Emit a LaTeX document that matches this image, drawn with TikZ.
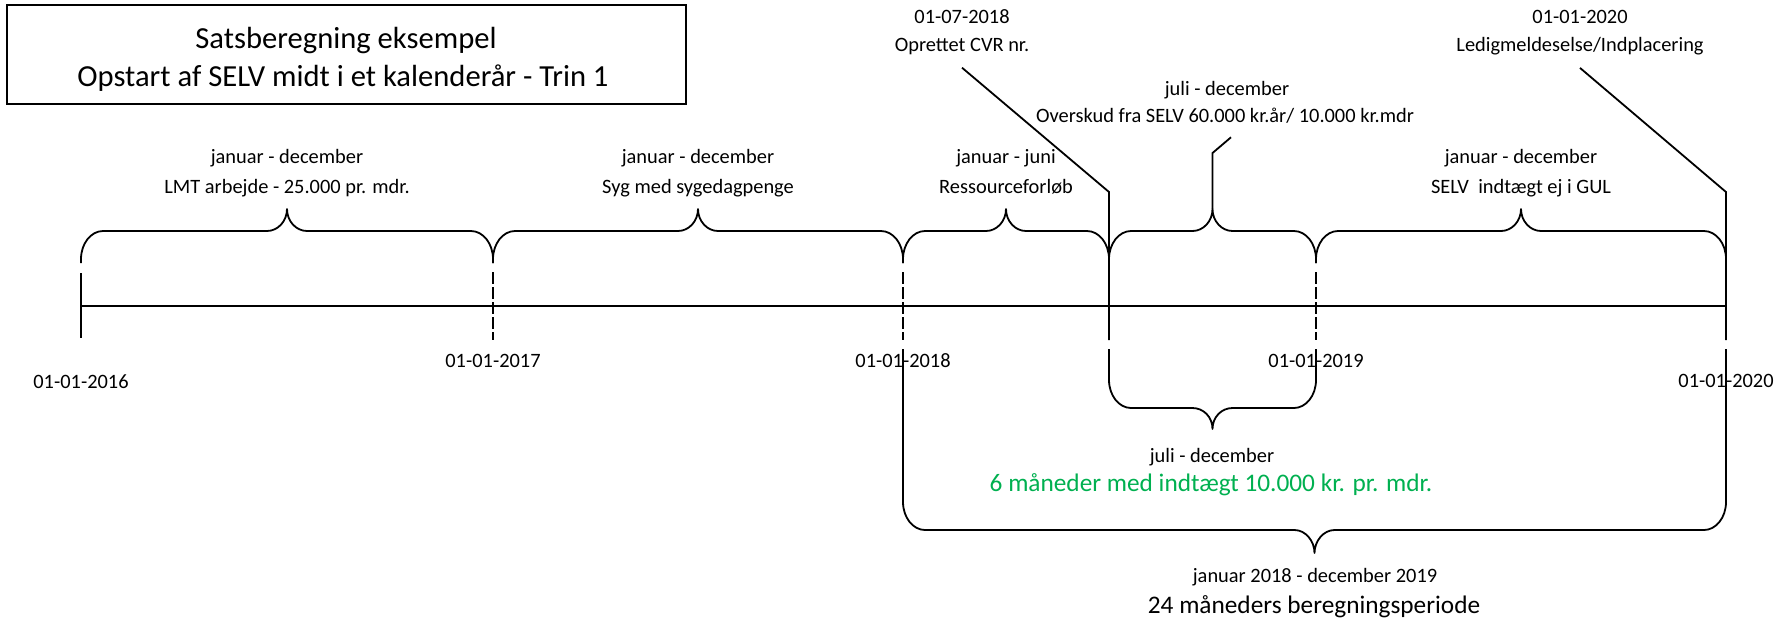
\documentclass[tikz,border=0pt]{standalone}
\usepackage{fontspec}
\setmainfont{Carlito}
\definecolor{incomegreen}{RGB}{0,176,80}
\tikzset{timeline/.style={line width=0.9pt},
    dashtick/.style={line width=0.9pt,dash pattern=on 6pt off 1.5pt},
    bracy/.style={line width=0.9pt,line join=round},
    smalltext/.style={anchor=base,inner sep=0pt,font=\fontsize{10.2}{12}\selectfont},
    midtext/.style={anchor=base,inner sep=0pt,font=\fontsize{12.65}{15}\selectfont},
    titletext/.style={anchor=base,inner sep=0pt,font=\fontsize{15.3}{18}\selectfont}
}
\newcommand{\timebrace}[6]
{
% args: (name of tip, x of left end, x of right end, y of ends, y of bar, y of tip)
    \pgfmathsetmacro\bmid{(#2+#3)/2}
    \pgfmathsetmacro\bdir{sign(#6-#5)}
    \pgfmathsetmacro\bknee{#5-28*(\bdir)}
    \pgfmathsetmacro\bkneectl{#5-12.5*(\bdir)}
    \pgfmathsetmacro\btipctl{#6-12*(\bdir)}
    \coordinate (#1) at (\bmid,#6);
    \draw [bracy] (#2,#4) -- (#2,\bknee)
        .. controls (#2,\bkneectl) and (#2+10,#5) .. (#2+22,#5)
        -- (\bmid-20,#5)
        .. controls (\bmid-9,#5) and (\bmid,\btipctl) .. (#1)
        .. controls (\bmid,\btipctl) and (\bmid+9,#5) .. (\bmid+20,#5)
        -- (#3-22,#5)
        .. controls (#3-10,#5) and (#3,\bkneectl) .. (#3,\bknee)
        -- (#3,#4);
}
\begin{document}
\begin{tikzpicture}[x=0.5pt,y=-0.5pt]
\useasboundingbox (0,0) rectangle (1787,618);

% title

\node (titlebox) [draw,line width=1.1pt,minimum width=339.5pt,minimum height=49.5pt,inner sep=0pt] at (346.5,54.5) {};
\node (title1) [titletext] at (346,48) {Satsberegning eksempel};
\node (title2) [titletext] at (343,86) {Opstart af SELV midt i et kalenderår - Trin 1};

% timeline with year marks

\coordinate (d16) at (81,306);
\coordinate (d17) at (493,306);
\coordinate (d18) at (903,306);
\coordinate (d1807) at (1109,306);
\coordinate (d19) at (1316,306);
\coordinate (d20) at (1726,306);

\draw [timeline] (d16) -- (d20);
\draw [timeline] (d16) ++(0,-33) -- ++(0,65);
\foreach \d in {d17,d18,d19}
    \draw [dashtick] (\d) ++(0,-34) -- ++(0,68);

\foreach \x/\y/\yr in {81/388/2016,493/367/2017,903/367/2018,1316/367/2019,1726/387/2020}
    \node (date\yr) [smalltext] at (\x,\y) {01-01-\yr};

% periods above the line

\foreach \a/\b [count=\i] in {81/493,493/903,903/1109,1109/1316,1316/1726}
{
    \timebrace{tip\i}{\a}{\b}{263}{231}{209}
}

\foreach \x/\months/\what [count=\i] in {287/januar - december/LMT arbejde - 25.000 pr. mdr.,
    698/januar - december/Syg med sygedagpenge,
    1006/januar - juni/Ressourceforløb,
    1521/januar - december/{SELV\ \ indtægt ej i GUL}}
{
    \node (months\i) [smalltext] at (\x,163) {\months};
    \node (period\i) [smalltext] at (\x,193) {\what};
}

% events

\node (cvrdate) [smalltext] at (962,23) {01-07-2018};
\node (cvr) [smalltext] at (962,51) {Oprettet CVR nr.};
\coordinate (cvrknee) at (1109,192);
\draw [timeline] ([yshift=-6.5pt]cvr.south) -- (cvrknee) -- (d1807) -- +(0,34);

\node (ledigdate) [smalltext] at (1580,23) {01-01-2020};
\node (ledig) [smalltext] at (1580,51) {Ledigmeldeselse/Indplacering};
\coordinate (ledigknee) at (1726,192);
\draw [timeline] ([yshift=-6.5pt]ledig.south) -- (ledigknee) -- (d20) -- +(0,34);

\node (ovskmonths) [smalltext] at (1227,95) {juli - december};
\node (ovsk) [smalltext] at (1225,122) {Overskud fra SELV 60.000 kr.år/ 10.000 kr.mdr};
\coordinate (ovskknee) at (1212.5,153);
\draw [timeline] (tip4) -- (ovskknee) -- ([xshift=3pt,yshift=-7pt]ovsk.south);

% periods below the line

\timebrace{smalltip}{1109}{1316}{349}{408}{429}
\node (smallmonths) [smalltext] at (1212,462) {juli - december};
\node (income) [midtext,text=incomegreen] at (1211,491) {6 måneder med indtægt 10.000 kr. pr. mdr.};

\timebrace{bigtip}{903}{1726}{349}{530}{553}
\node (bigmonths) [smalltext] at (1315,582) {januar 2018 - december 2019};
\node (calcperiod) [midtext] at (1314,613) {24 måneders beregningsperiode};

\end{tikzpicture}
\end{document}
